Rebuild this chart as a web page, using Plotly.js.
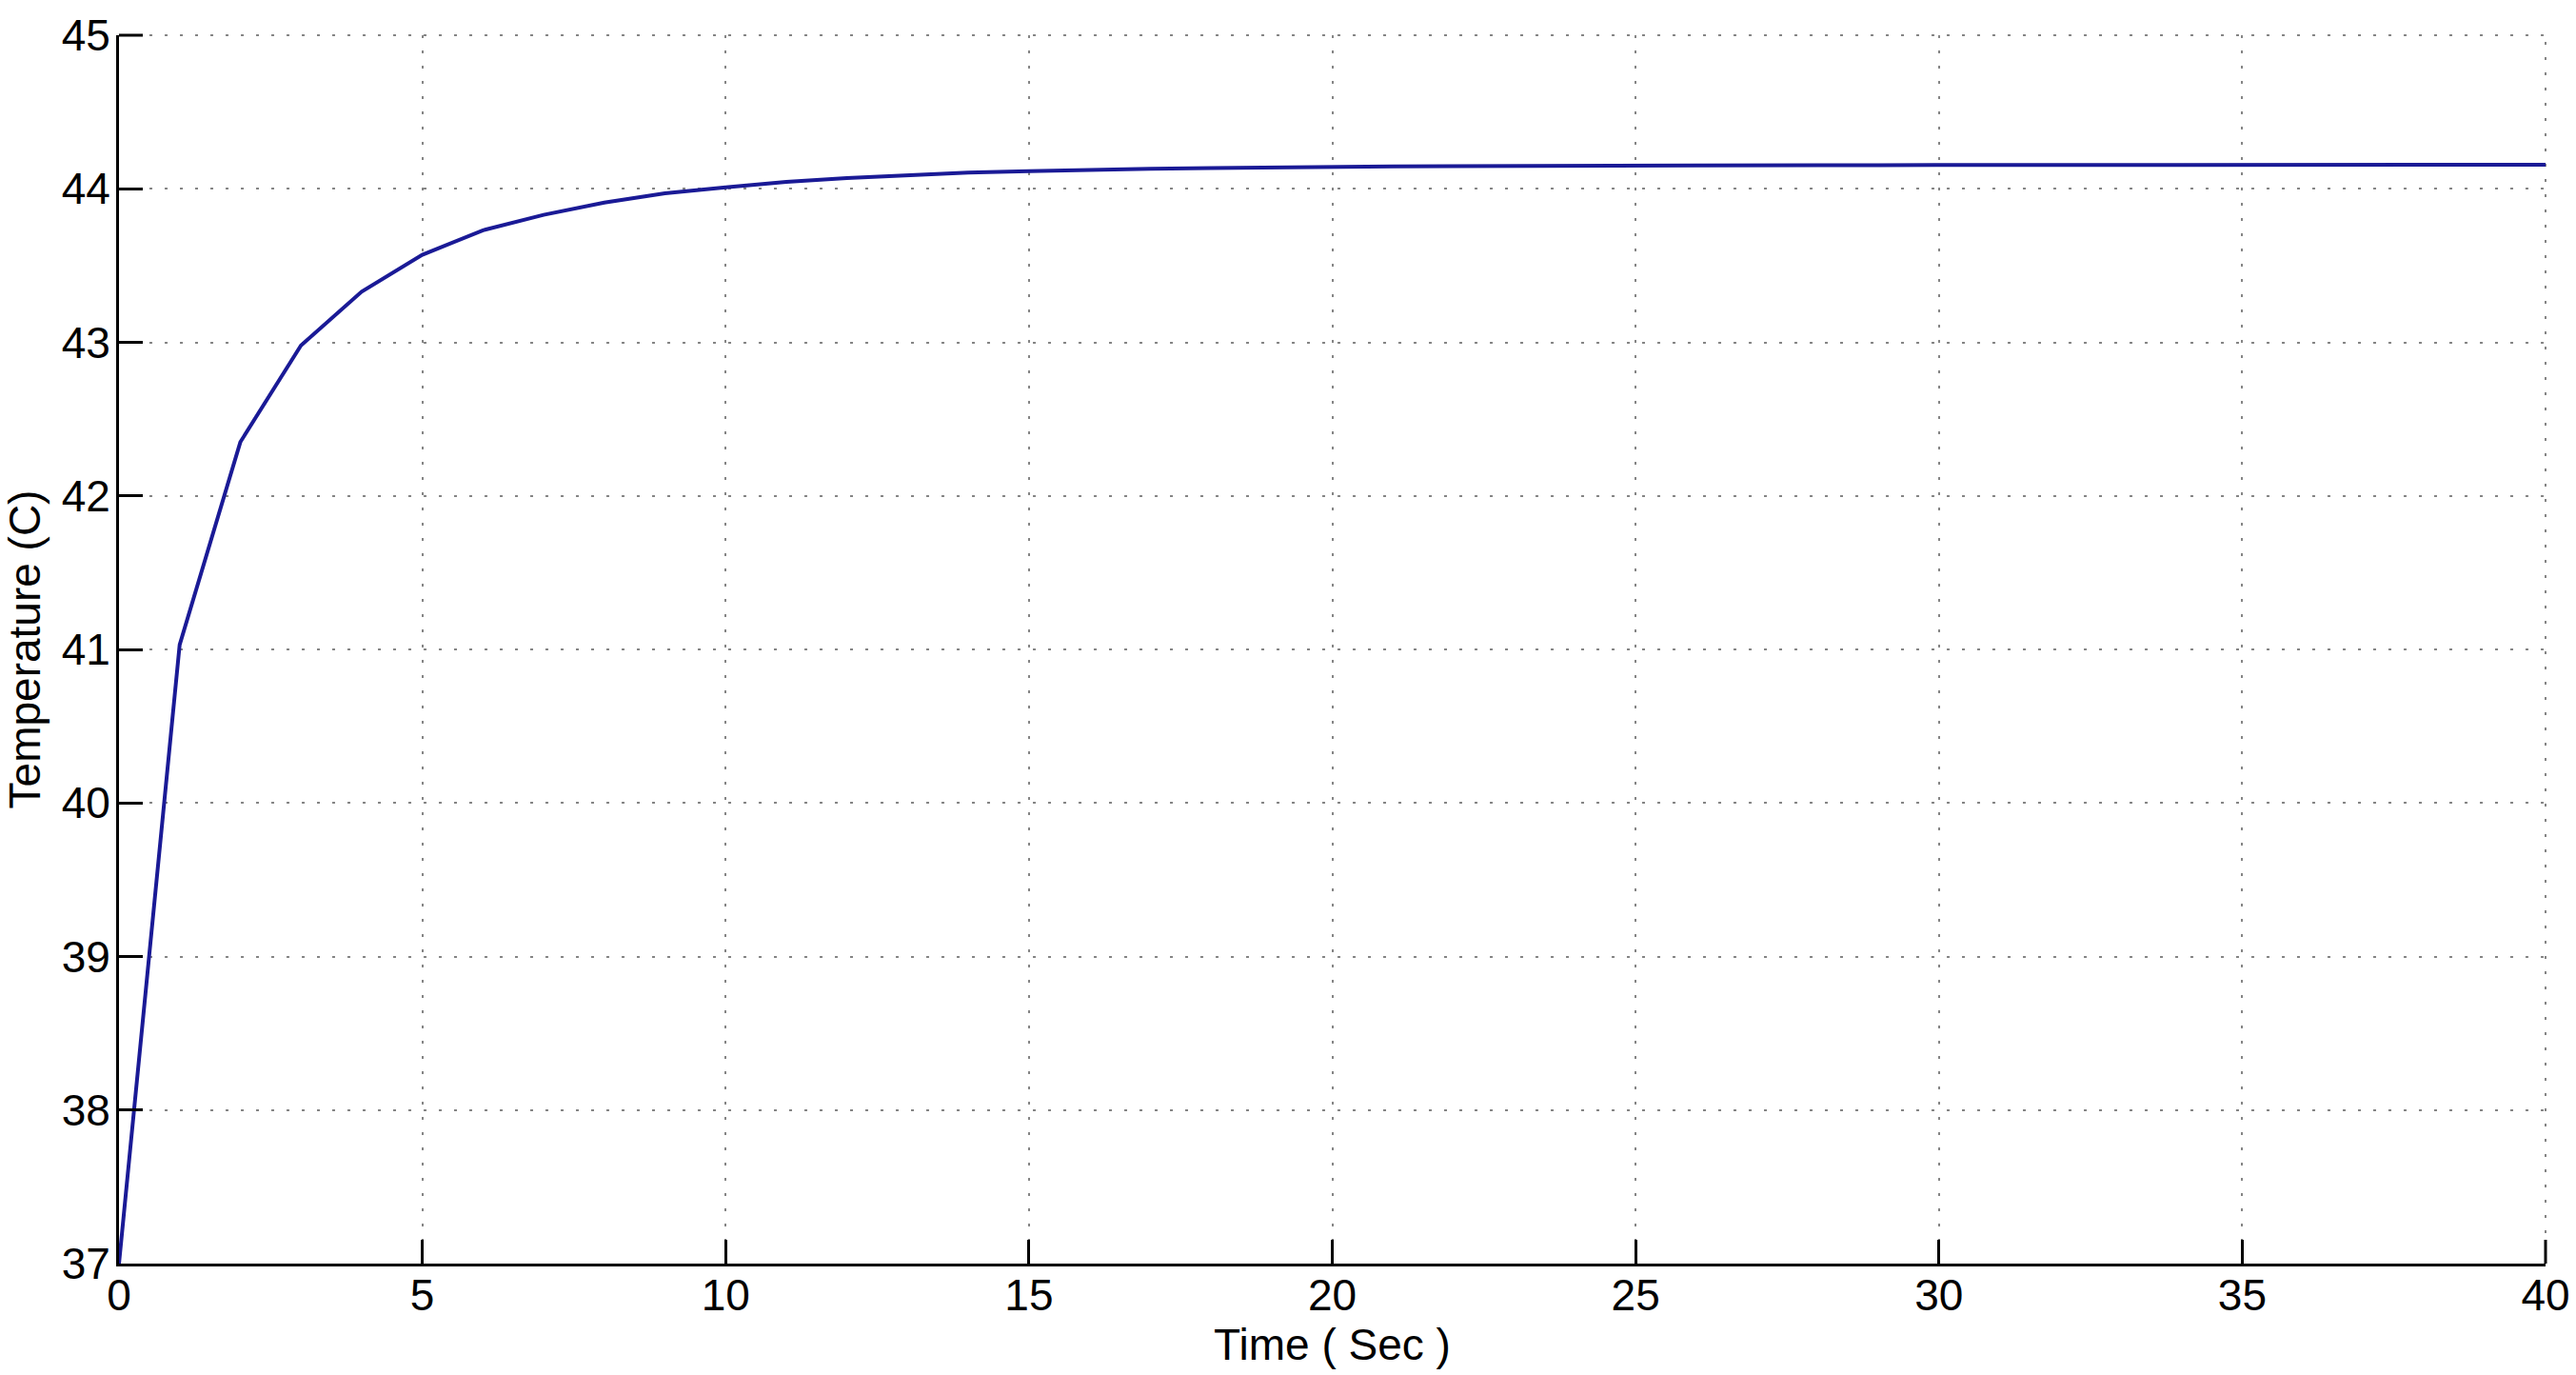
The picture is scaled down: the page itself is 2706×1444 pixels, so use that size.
<!DOCTYPE html>
<html>
<head>
<meta charset="utf-8">
<script src="https://cdn.plot.ly/plotly-3.0.1.min.js"></script>
<style>html,body{margin:0;padding:0;background:#fff;}#chart{width:2706px;height:1444px;}</style>
</head>
<body>
<div id="chart"></div>
<script>
const timeSec = [0,1,2,3,4,5,6,7,8,9,10,11,12,13,14,15,16,17,18,19,20,21,22,23,24,25,26,27,28,29,30,31,32,33,34,35,36,37,38,39,40];
const temperatureC = [37.00,41.03,42.35,42.98,43.33,43.57,43.73,43.83,43.91,43.97,44.01,44.045,44.07,44.09,44.105,44.115,44.125,44.13,44.135,44.14,44.143,44.146,44.148,44.15,44.151,44.152,44.153,44.153,44.154,44.154,44.155,44.155,44.155,44.156,44.156,44.156,44.156,44.157,44.157,44.157,44.157];
const xTitle = 'Time ( Sec )';
const yTitle = 'Temperature (C)';

const font = {family: 'Liberation Sans, Arial, sans-serif', size: 46, color: '#000'};
const gridColor = '#858585';
const gridDash = '3px,13px';

Plotly.newPlot('chart', [{
  x: timeSec, y: temperatureC, type: 'scatter', mode: 'lines',
  line: {color: '#1a1a96', width: 4}
}], {
  width: 2706, height: 1444,
  margin: {l: 125, r: 32, t: 37, b: 117},
  paper_bgcolor: '#fff', plot_bgcolor: '#fff',
  showlegend: false,
  font: font,
  xaxis: {
    range: [0, 40], dtick: 5, tick0: 0,
    showline: true, linecolor: '#000', linewidth: 3,
    ticks: 'inside', ticklen: 25, tickwidth: 3, tickcolor: '#000',
    showgrid: true, gridcolor: gridColor, gridwidth: 2, griddash: gridDash,
    zeroline: false, mirror: false, layer: 'above traces',
    tickfont: font, ticklabelstandoff: -9,
    title: {text: xTitle, font: font, standoff: 0}
  },
  yaxis: {
    range: [37, 45], dtick: 1, tick0: 37,
    showline: true, linecolor: '#000', linewidth: 3,
    ticks: 'inside', ticklen: 25, tickwidth: 3, tickcolor: '#000',
    showgrid: true, gridcolor: gridColor, gridwidth: 2, griddash: gridDash,
    zeroline: false, mirror: false, layer: 'above traces',
    tickfont: font, ticklabelstandoff: -3,
    title: {text: yTitle, font: font, standoff: 17}
  },
  shapes: [
    {type: 'line', xref: 'paper', yref: 'paper', x0: 0, x1: 1, y0: 1, y1: 1, layer: 'below',
     line: {color: gridColor, width: 2, dash: gridDash}},
    {type: 'line', xref: 'paper', yref: 'paper', x0: 1, x1: 1, y0: 0, y1: 1, layer: 'below',
     line: {color: gridColor, width: 2, dash: gridDash}},
    {type: 'line', xref: 'paper', yref: 'paper', xsizemode: 'pixel', xanchor: 0, x0: 0, x1: 25, y0: 1, y1: 1,
     line: {color: '#000', width: 3}},
    {type: 'line', xref: 'paper', yref: 'paper', ysizemode: 'pixel', yanchor: 0, y0: 0, y1: 25, x0: 1, x1: 1,
     line: {color: '#000', width: 3}}
  ]
}, {displayModeBar: false, staticPlot: true});
</script>
</body>
</html>
